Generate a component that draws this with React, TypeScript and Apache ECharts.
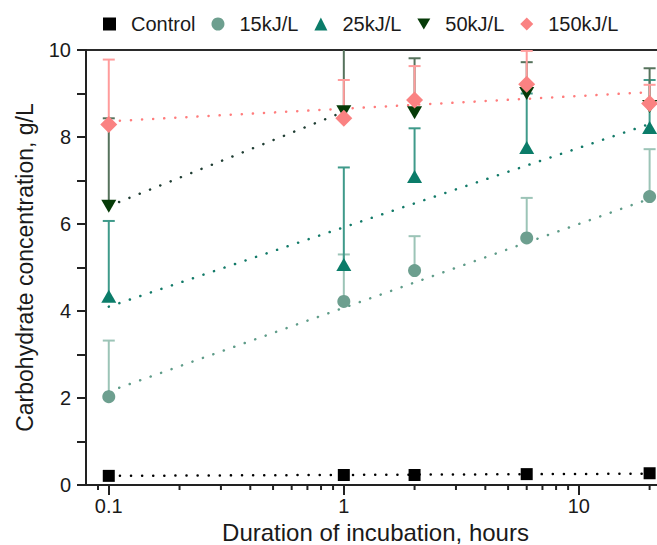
import React, { useEffect, useRef } from 'react';
import * as echarts from 'echarts';

// ---- data ----
const HOURS = [0.1, 1, 2, 6, 20];
const CONTROL = [0.21, 0.23, 0.23, 0.25, 0.27];
const KJ15 = [2.03, 4.22, 4.93, 5.68, 6.63];
const KJ15_ERR = [1.29, 1.08, 0.79, 0.92, 1.09];
const KJ25 = [4.34, 5.07, 7.09, 7.76, 8.22];
const KJ25_ERR = [1.73, 2.23, 1.11, 1.24, 1.09];
const KJ50 = [6.41, 8.58, 8.56, 9.0, 8.7];
const KJ50_ERR = [2.02, 1.7, 1.25, 0.72, 0.88];
const KJ150 = [8.29, 8.43, 8.85, 9.21, 8.77];
const KJ150_ERR = [1.49, 0.88, 0.78, 0.77, 0.43];

// trend line end points
const TREND_X = [0.1, 20];
const TREND_CONTROL = [0.21, 0.26];
const TREND_15 = [2.15, 6.58];
const TREND_25 = [4.1, 8.3];
const TREND_50_X = [0.1, 1];
const TREND_50 = [6.41, 8.58];
const TREND_150 = [8.36, 9.03];

const X_MINOR = [0.09, 0.2, 0.3, 0.4, 0.5, 0.6, 0.7, 0.8, 0.9, 2, 3, 4, 5, 6, 7, 8, 9, 20, 30];

const FONT = 'Liberation Sans, Arial, Helvetica, sans-serif';
const TXT = '#1a1a1a';
const AX = '#222';

const DOWN_TRI = 'path://M0,0L14,0L7,12Z';

function errSeries(name: string, vals: number[], errs: number[], color: string) {
  return {
    type: 'custom',
    name,
    clip: true,
    silent: true,
    data: HOURS.map((h, i) => [h, vals[i], vals[i] + errs[i]]),
    encode: { x: 0, y: [1, 2] },
    renderItem: (params: any, api: any) => {
      const p0 = api.coord([api.value(0), api.value(1)]);
      const p1 = api.coord([api.value(0), api.value(2)]);
      const hw = 6;
      return {
        type: 'group',
        children: [
          { type: 'line', shape: { x1: p0[0], y1: p0[1], x2: p1[0], y2: p1[1] }, style: { stroke: color, lineWidth: 2 } },
          { type: 'line', shape: { x1: p1[0] - hw, y1: p1[1], x2: p1[0] + hw, y2: p1[1] }, style: { stroke: color, lineWidth: 2 } },
        ],
      };
    },
  };
}

function trend(name: string, xs: number[], ys: number[], color: string) {
  return {
    type: 'line',
    name,
    silent: true,
    symbol: 'none',
    data: xs.map((x, i) => [x, ys[i]]),
    lineStyle: { color, width: 2.5, type: [0.1, 11], cap: 'round' },
  };
}

function scatter(name: string, vals: number[], symbol: string, size: any, color: string) {
  return {
    type: 'scatter',
    name,
    symbol,
    symbolSize: size,
    z: 5,
    itemStyle: { color, opacity: 1 },
    data: HOURS.map((h, i) => [h, vals[i]]),
  };
}

export default function App() {
  const ref = useRef<HTMLDivElement>(null);
  useEffect(() => {
    if (!ref.current) return;
    const chart = echarts.init(ref.current, undefined, { renderer: 'svg' });
    const option: any = {
      animation: false,
      textStyle: { fontFamily: FONT, color: TXT },
      grid: {
        left: 86, top: 50, width: 605, height: 435,
        outerBoundsMode: 'none', containLabel: false,
        show: true, borderColor: '#2a2a2a', borderWidth: 2, backgroundColor: 'transparent',
      },
      legend: {
        left: 98,
        top: 9,
        itemWidth: 13,
        itemHeight: 13,
        itemGap: 16,
        textStyle: { fontFamily: FONT, fontSize: 20, color: TXT, padding: [0, 0, 0, 10] },
        data: [
          { name: 'Control', icon: 'rect' },
          { name: '15kJ/L', icon: 'circle' },
          { name: '25kJ/L', icon: 'triangle' },
          { name: '50kJ/L', icon: DOWN_TRI },
          { name: '150kJ/L', icon: 'diamond' },
        ],
      },
      xAxis: {
        type: 'log',
        min: 0.08,
        max: 30,
        logBase: 10,
        name: 'Duration of incubation, hours',
        nameLocation: 'middle',
        nameGap: 17,
        nameTextStyle: { fontFamily: FONT, fontSize: 24, color: TXT, padding: [0, 26, 0, 0] },
        axisLine: { lineStyle: { color: AX, width: 2 } },
        axisTick: { length: 10, lineStyle: { color: AX, width: 2 } },
        axisLabel: { fontFamily: FONT, fontSize: 20, color: TXT, margin: 11, showMinLabel: false, showMaxLabel: false },
        splitLine: { show: false },
        minorTick: { show: false },
      },
      yAxis: {
        type: 'value',
        min: 0,
        max: 10,
        interval: 1,
        name: 'Carbohydrate concentration, g/L',
        nameLocation: 'middle',
        nameGap: 50,
        nameTextStyle: { fontFamily: FONT, fontSize: 23, color: TXT },
        axisLine: { show: true, lineStyle: { color: AX, width: 2 } },
        axisTick: { show: true, length: 9, lineStyle: { color: AX, width: 2 } },
        axisLabel: {
          fontFamily: FONT, fontSize: 20, color: TXT, margin: 15,
          formatter: (v: number) => (Math.round(v) % 2 === 0 ? String(Math.round(v)) : ''),
        },
        splitLine: { show: false },
      },
      series: [
        {
          type: 'custom',
          name: 'minor-ticks',
          silent: true,
          clip: false,
          data: X_MINOR.map((v) => [v, 0]),
          renderItem: (params: any, api: any) => {
            const p = api.coord([api.value(0), 0]);
            return { type: 'line', shape: { x1: p[0], y1: p[1], x2: p[0], y2: p[1] + 5 }, style: { stroke: AX, lineWidth: 2 } };
          },
        },
        trend('t-control', TREND_X, TREND_CONTROL, '#000000'),
        trend('t-15', TREND_X, TREND_15, '#5f9c89'),
        trend('t-25', TREND_X, TREND_25, '#127a68'),
        trend('t-50', TREND_50_X, TREND_50, '#1f3d33'),
        trend('t-150', TREND_X, TREND_150, '#ff7c7c'),
        errSeries('e-15', KJ15, KJ15_ERR, '#9cc4b7'),
        errSeries('e-25', KJ25, KJ25_ERR, '#3f9a8a'),
        errSeries('e-50', KJ50, KJ50_ERR, '#56725c'),
        errSeries('e-150', KJ150, KJ150_ERR, '#ff9c9c'),
        scatter('Control', CONTROL, 'rect', 12, '#000000'),
        scatter('15kJ/L', KJ15, 'circle', 13, '#6d9f8f'),
        scatter('25kJ/L', KJ25, 'triangle', [15, 13], '#0b7c69'),
        scatter('50kJ/L', KJ50, DOWN_TRI, [15, 13], '#063b08'),
        scatter('150kJ/L', KJ150, 'diamond', [17, 17], '#fa8282'),
      ],
    };
    chart.setOption(option);
    return () => chart.dispose();
  }, []);
  return (
    <div style={{ position: 'fixed', left: 0, top: 0, width: 657, height: 545, overflow: 'hidden', background: '#fff' }}>
      <div ref={ref} style={{ width: 720, height: 545 }} />
    </div>
  );
}
